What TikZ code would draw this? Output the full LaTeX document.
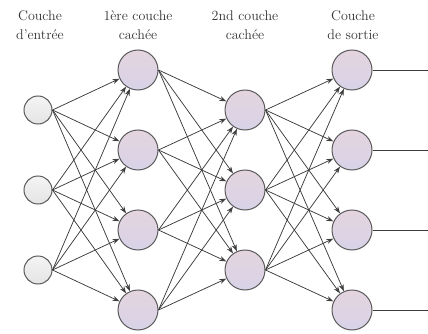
\documentclass[tikz,border=0pt]{standalone}
\usetikzlibrary{arrows.meta}
\definecolor{hidtop}{RGB}{228,212,222}
\definecolor{hidmid}{RGB}{238,233,240}
\definecolor{hidbot}{RGB}{216,211,232}
\definecolor{intop}{RGB}{244,244,244}
\definecolor{inbot}{RGB}{228,228,228}
\definecolor{edge}{RGB}{90,90,90}
\definecolor{wire}{RGB}{60,60,60}
\tikzset{
  neuron/.style={circle, draw=edge, line width=1pt, minimum size=40pt, inner sep=0pt,
    top color=hidtop, middle color=hidmid, bottom color=hidbot},
  inneuron/.style={circle, draw=edge, line width=1pt, minimum size=28pt, inner sep=0pt,
    top color=intop, bottom color=inbot},
  conn/.style={draw=wire, line width=0.75pt, -{Stealth[length=7pt,width=5pt]}},
  outline/.style={draw=wire, line width=0.8pt},
  lbl/.style={align=center, font=\fontsize{14}{19}\selectfont, text=black!80}
}
\begin{document}
\begin{tikzpicture}[x=1pt,y=-1pt]
\useasboundingbox (0,0) rectangle (428,334);
% labels
\node[lbl] (l1) at (40,25) {Couche\\d'entrée};
\node[lbl] (l2) at (138,25) {1ère couche\\cachée};
\node[lbl] (l3) at (245,25) {2nd couche\\cachée};
\node[lbl] (l4) at (353,25) {Couche\\de sortie};
% input layer
\foreach \i/\y in {1/110,2/190,3/270}
  \node[inneuron] (i\i) at (38,\y) {};
% hidden 1
\foreach \i/\y in {1/70,2/150,3/230,4/310}
  \node[neuron] (a\i) at (138,\y) {};
% hidden 2
\foreach \i/\y in {1/110,2/190,3/270}
  \node[neuron] (b\i) at (245,\y) {};
% output
\foreach \i/\y in {1/70,2/150,3/230,4/310}
  \node[neuron] (o\i) at (352,\y) {};
% connections
\foreach \s in {1,2,3}
  \foreach \t in {1,2,3,4}
    \draw[conn] (i\s.east) -- (a\t);
\foreach \s in {1,2,3,4}
  \foreach \t in {1,2,3}
    \draw[conn] (a\s.east) -- (b\t);
\foreach \s in {1,2,3}
  \foreach \t in {1,2,3,4}
    \draw[conn] (b\s.east) -- (o\t);
% outputs
\foreach \i/\y in {1/70,2/150,3/230,4/310} {
  \coordinate (e\i) at (428,\y);
  \draw[outline] (o\i.east) -- (e\i);
}
\end{tikzpicture}
\end{document}
